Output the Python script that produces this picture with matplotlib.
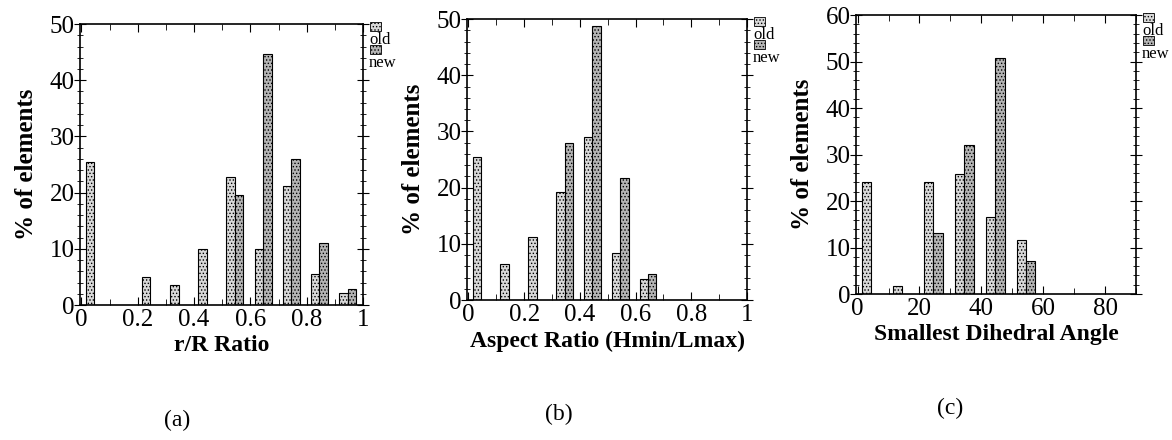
import numpy as np
import matplotlib
matplotlib.use("Agg")
import matplotlib.pyplot as plt
from matplotlib.patches import Rectangle
from matplotlib.ticker import MultipleLocator

plt.rcParams['font.family'] = ['Liberation Serif', 'DejaVu Serif']
plt.rcParams['hatch.color'] = '#555555'
plt.rcParams['hatch.linewidth'] = 0.6

# (a) r/R ratio
bins_a = [0.0, 0.1, 0.2, 0.3, 0.4, 0.5, 0.6, 0.7, 0.8, 0.9]
old_a = [25.5, 0, 5, 3.5, 10, 22.7, 10, 21.2, 5.5, 2.2]
new_a = [0, 0, 0, 0, 0, 19.5, 44.7, 26, 11, 2.8]

# (b) aspect ratio
bins_b = [0.0, 0.1, 0.2, 0.3, 0.4, 0.5, 0.6, 0.7, 0.8, 0.9]
old_b = [25.5, 6.5, 11.3, 19.3, 29, 8.3, 3.7, 0, 0, 0]
new_b = [0, 0, 0, 28, 48.8, 21.7, 4.7, 0, 0, 0]

# (c) smallest dihedral angle
bins_c = [0, 10, 20, 30, 40, 50, 60, 70, 80]
old_c = [24, 1.8, 24, 25.8, 16.5, 11.7, 0, 0, 0]
new_c = [0, 0, 13.2, 32, 50.7, 7.2, 0, 0, 0]

panels = [
    dict(bins=bins_a, old=old_a, new=new_a, step=0.1, xlim=(-0.005, 1.0), ylim=50,
         xticks=[0, 0.2, 0.4, 0.6, 0.8, 1], xlabels=['0', '0.2', '0.4', '0.6', '0.8', '1'],
         xlabel='r/R Ratio', cap='(a)', cap_xy=(177, 420), pos=[0.0683, 0.3068, 0.2415, 0.6386]),
    dict(bins=bins_b, old=old_b, new=new_b, step=0.1, xlim=(-0.005, 1.0), ylim=50,
         xticks=[0, 0.2, 0.4, 0.6, 0.8, 1], xlabels=['0', '0.2', '0.4', '0.6', '0.8', '1'],
         xlabel='Aspect Ratio (Hmin/Lmax)', cap='(b)', cap_xy=(559, 414), pos=[0.3985, 0.318, 0.2389, 0.6386]),
    dict(bins=bins_c, old=old_c, new=new_c, step=10, xlim=(-0.5, 90), ylim=60,
         xticks=[0, 20, 40, 60, 80], xlabels=['0', '20', '40', '60', '80'],
         xlabel='Smallest Dihedral Angle', cap='(c)', cap_xy=(950, 408), pos=[0.7304, 0.3318, 0.2389, 0.634]),
]

old_col = '#d8d8d8'
new_col = '#b4b4b4'

W, H = 1172, 440
fig = plt.figure(figsize=(W / 100, H / 100), dpi=100)

for p in panels:
    ax = fig.add_axes(p['pos'])
    b = np.array(p['bins'], dtype=float)
    o = np.array(p['old'], dtype=float)
    n = np.array(p['new'], dtype=float)
    w = p['step'] * 0.3
    mo = o > 0
    mn = n > 0
    ax.bar(b[mo] + p['step'] * 0.3, o[mo], width=w, color=old_col, edgecolor='black',
           linewidth=0.8, hatch='.....')
    ax.bar(b[mn] + p['step'] * 0.6, n[mn], width=w, color=new_col, edgecolor='black',
           linewidth=0.8, hatch='.....')
    ax.set_xlim(*p['xlim'])
    ax.set_ylim(0, p['ylim'])
    ax.set_xticks(p['xticks'])
    ax.set_xticklabels(p['xlabels'])
    ax.xaxis.set_minor_locator(MultipleLocator(p['step']))
    ax.yaxis.set_major_locator(MultipleLocator(10))
    ax.yaxis.set_minor_locator(MultipleLocator(2))
    ax.tick_params(axis='x', which='both', direction='in', top=True, labelsize=18, pad=3)
    ax.tick_params(axis='x', which='major', length=6)
    ax.tick_params(axis='x', which='minor', length=4)
    ax.tick_params(axis='y', which='both', direction='inout', right=True, labelsize=18, pad=0)
    ax.tick_params(axis='y', which='major', length=8)
    ax.tick_params(axis='y', which='minor', length=4)
    for s in ax.spines.values():
        s.set_linewidth(1.2)
    ax.set_ylabel('% of elements', fontsize=18, fontweight='bold', labelpad=8)
    ax.set_xlabel(p['xlabel'], fontsize=17, fontweight='bold', labelpad=3)
    fig.text(p['cap_xy'][0] / W, 1 - p['cap_xy'][1] / H, p['cap'], ha='center', va='center',
             fontsize=17)

    # small legend outside the top right corner
    ax.add_patch(Rectangle((1.025, 0.975), 0.038, 0.033, transform=ax.transAxes,
                           facecolor=old_col, edgecolor='black', linewidth=0.6,
                           hatch='.....', clip_on=False))
    ax.text(1.021, 0.943, 'old', transform=ax.transAxes, ha='left', va='center', fontsize=12)
    ax.add_patch(Rectangle((1.025, 0.893), 0.038, 0.033, transform=ax.transAxes,
                           facecolor=new_col, edgecolor='black', linewidth=0.6,
                           hatch='.....', clip_on=False))
    ax.text(1.021, 0.862, 'new', transform=ax.transAxes, ha='left', va='center', fontsize=12)

fig.savefig('out.png', dpi=100)
